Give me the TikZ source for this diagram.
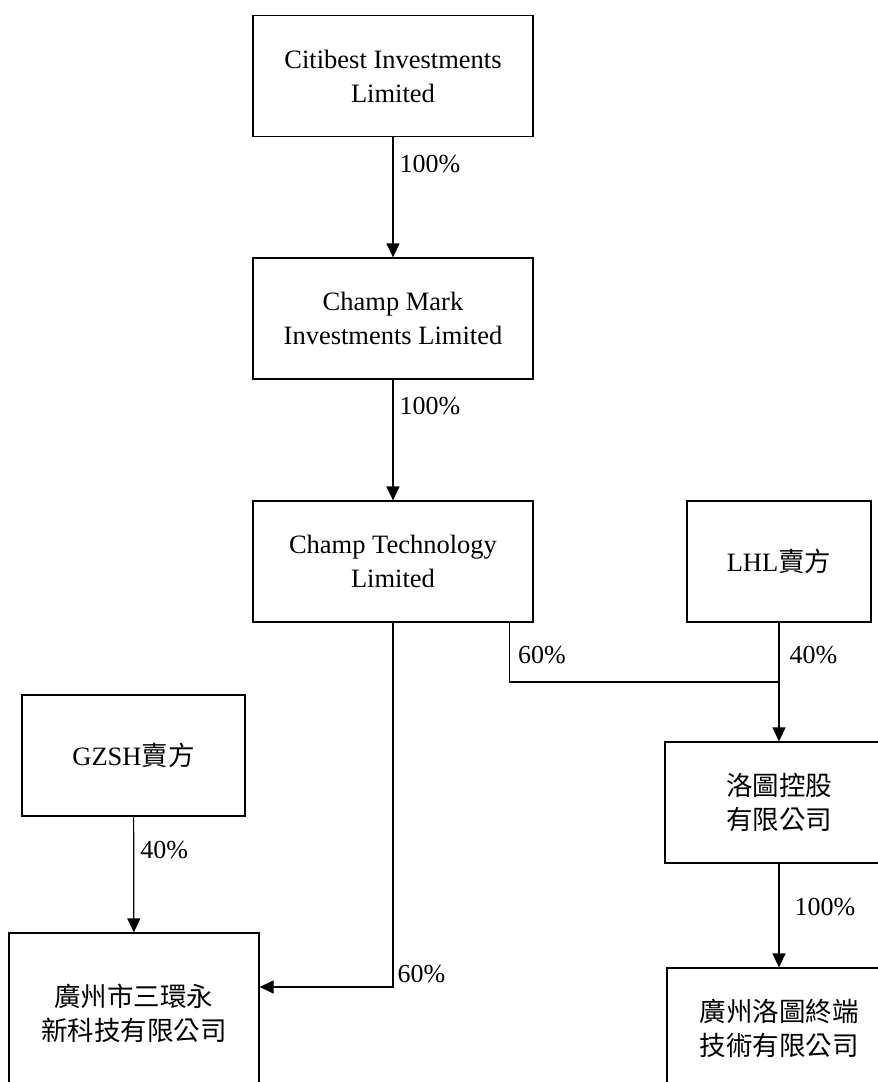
\documentclass[tikz,border=0pt]{standalone}
\usepackage{fontspec}
\setmainfont{Liberation Serif}
\newfontfamily\cjk{Noto Sans CJK TC}
\usetikzlibrary{arrows.meta}

\tikzset{
    company/.style={draw, line width=1.2pt, align=center, inner sep=0pt,
        font=\fontsize{26.5}{34}\selectfont},
    share/.style={line width=1.2pt, -{Triangle[length=14pt,width=13pt]}},
    pct/.style={font=\fontsize{26}{30}\selectfont, inner sep=6pt}
}

\begin{document}
\begin{tikzpicture}[x=1pt,y=-1pt]
                \useasboundingbox (0,0) rectangle (878,1082);
                \node[company, minimum width=280pt, minimum height=121pt] (citi) at (393,76) {Citibest Investments\\Limited};
                \node[company, minimum width=280pt, minimum height=121pt] (mark) at (393,318.5) {Champ Mark\\Investments Limited};
                \node[company, minimum width=280pt, minimum height=121pt] (tech) at (393,561.5) {Champ Technology\\Limited};
                \node[company, minimum width=184pt, minimum height=121pt] (lhl) at (779,561.5) {LHL{\cjk 賣方}};
                \node[company, minimum width=228pt, minimum height=121pt] (hold) at (779,802.5) {\cjk 洛圖控股\\\cjk 有限公司};
                \node[company, minimum width=223pt, minimum height=121pt] (gzsh) at (133.5,755.5) {GZSH{\cjk 賣方}};
                \node[company, minimum width=250pt, minimum height=160pt] (sanhuan) at (134,1013) {\cjk 廣州市三環永\\\cjk 新科技有限公司};
                \node[company, minimum width=224pt, minimum height=121pt] (term) at (779,1028.5) {\cjk 廣州洛圖終端\\\cjk 技術有限公司};
                \coordinate (techleg) at ([xshift=-24pt]tech.south east);
                \coordinate (joint) at (779,682);
                \coordinate (bend) at (393,987);
                \draw[share] (citi) -- node[pct, pos=0.22, right] {100\%} (mark);
                \draw[share] (mark) -- node[pct, pos=0.22, right] {100\%} (tech);
                \draw[line width=1.2pt] (techleg) -- node[pct, pos=0.55, right, xshift=2pt] {60\%} (techleg |- joint) -- (joint);
                \draw[share] (lhl) -- node[pct, pos=0.55, right, xshift=4pt] {40\%} (joint) -- (hold);
                \draw[share] (gzsh) -- node[pct, pos=0.29, right] {40\%} (sanhuan);
                \draw[share] (hold) -- node[pct, pos=0.42, right, xshift=9pt] {100\%} (term);
                \draw[share] (tech) -- (bend) node[pct, above right, inner sep=4pt] {60\%} -- (bend -| sanhuan.east);
            \end{tikzpicture}
\end{document}
